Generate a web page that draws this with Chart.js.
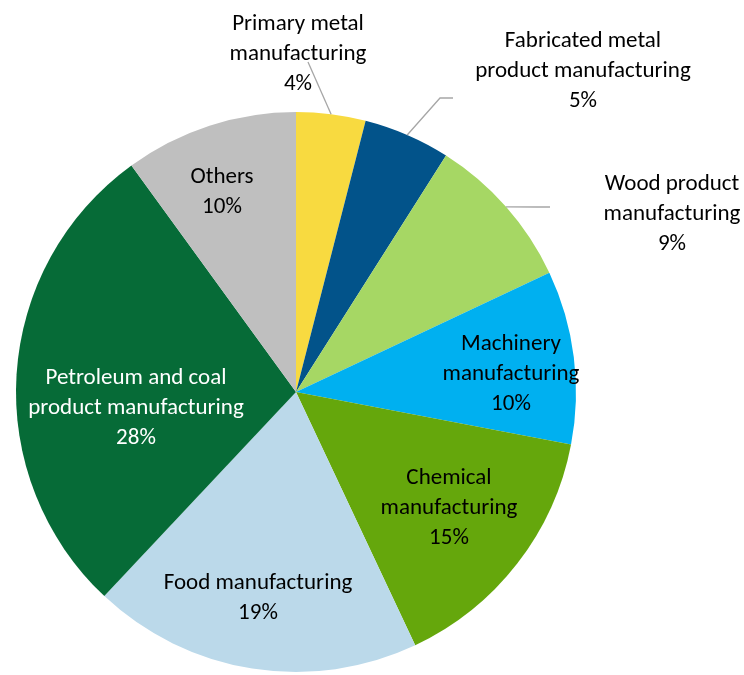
<!DOCTYPE html>
<html>
<head>
<meta charset="utf-8">
<script src="https://cdn.jsdelivr.net/npm/chart.js@4"></script>
<style>
  body { margin: 0; background: #fff; }
  #wrap { width: 744px; height: 675px; }
</style>
</head>
<body>
<div id="wrap"><canvas id="myChart"></canvas></div>
<script>
// data
const categories = [
    ['Primary metal', 'manufacturing'],
    ['Fabricated metal', 'product manufacturing'],
    ['Wood product', 'manufacturing'],
    ['Machinery', 'manufacturing'],
    ['Chemical', 'manufacturing'],
    ['Food manufacturing'],
    ['Petroleum and coal', 'product manufacturing'],
    ['Others']
];
const shares = [4, 5, 9, 10, 15, 19, 28, 10];
const colors = ['#F8DA40', '#02538A', '#A6D764', '#00B0F0', '#65A70C', '#BBD9EA', '#066B37', '#BFBFBF'];
const labelColors = ['#000', '#000', '#000', '#000', '#000', '#000', '#fff', '#000'];

// label placement: offset of the label centre from the pie centre,
// outside labels also get a leader line (elbow points, same offsets)
const labelPlace = [
    { dx: 2, dy: -338, line: [[12, -330]] },
    { dx: 287, dy: -321, line: [[144, -294], [157, -294]] },
    { dx: 376, dy: -178, line: [[242, -185], [254, -185]] },
    { dx: 215, dy: -18 },
    { dx: 153, dy: 116 },
    { dx: -38, dy: 206 },
    { dx: -160, dy: 16 },
    { dx: -74, dy: -200 }
];

const FONT = '23px Carlito, Calibri, Lato, sans-serif';
const LINE_H = 30;

const sliceLabels = {
    id: 'sliceLabels',
    afterDatasetsDraw(chart) {
        const ctx = chart.ctx;
        const meta = chart.getDatasetMeta(0);
        ctx.save();
        ctx.font = FONT;
        ctx.textAlign = 'center';
        ctx.textBaseline = 'middle';
        meta.data.forEach((arc, i) => {
            const p = labelPlace[i];
            const mid = (arc.startAngle + arc.endAngle) / 2;
            if (p.line) {
                ctx.strokeStyle = '#A6A6A6';
                ctx.lineWidth = 1.3;
                ctx.beginPath();
                ctx.moveTo(arc.x + Math.cos(mid) * arc.outerRadius, arc.y + Math.sin(mid) * arc.outerRadius);
                p.line.forEach(pt => ctx.lineTo(arc.x + pt[0], arc.y + pt[1]));
                ctx.stroke();
            }
            const cx = arc.x + p.dx;
            const cy = arc.y + p.dy;
            const lines = categories[i].concat([shares[i] + '%']);
            const top = cy - (lines.length - 1) * LINE_H / 2;
            ctx.fillStyle = labelColors[i];
            lines.forEach((t, k) => ctx.fillText(t, cx, top + k * LINE_H));
        });
        ctx.restore();
    }
};

new Chart(document.getElementById('myChart'), {
    type: 'pie',
    data: {
        labels: categories.map(c => c.join(' ')),
        datasets: [{
            data: shares,
            backgroundColor: colors,
            borderWidth: 0
        }]
    },
    options: {
        responsive: true,
        maintainAspectRatio: false,
        animation: false,
        layout: { padding: { left: 16, right: 168, top: 112, bottom: 3 } },
        plugins: {
            legend: { display: false },
            tooltip: { enabled: false }
        }
    },
    plugins: [sliceLabels]
});
</script>
</body>
</html>
